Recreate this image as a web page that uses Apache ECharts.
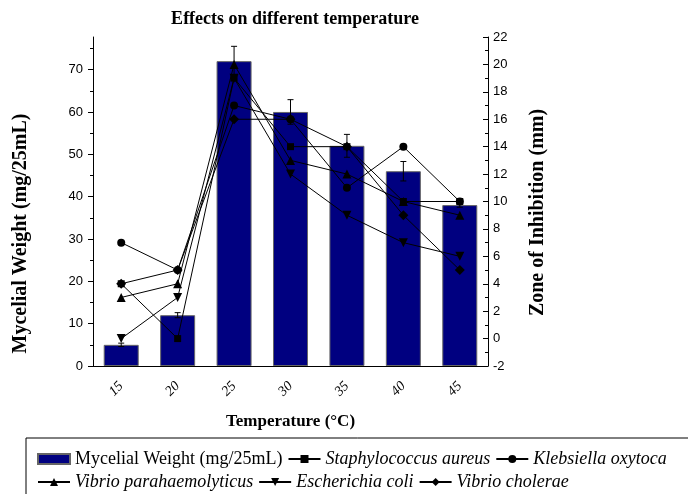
<!DOCTYPE html>
<html>
<head>
<meta charset="utf-8">
<title>Effects on different temperature</title>
<script src="https://cdn.jsdelivr.net/npm/echarts@6/dist/echarts.min.js"></script>
<style>
	html, body {
		margin: 0;
		padding: 0;
		background: #fff;
	}
	#chart {
		width: 688px;
		height: 494px;
	}
</style>
</head>
<body>
<div id="chart"></div>
<script>
	const temps = ['15', '20', '25', '30', '35', '40', '45']
	const weight = [5, 12, 72, 60, 52, 46, 38]
	const weightErr = [0.4, 0.6, 3.5, 2.9, 2.7, 2.3, 0.5]
	const staph = [4, 0, 19, 14, 14, 10, 10]
	const kleb = [7, 5, 17, 16, 11, 14, 10]
	const vpara = [3, 4, 20, 13, 12, 10, 9]
	const ecoli = [0, 3, 19, 12, 9, 7, 6]
	const vchol = [4, 5, 16, 16, 14, 9, 5]
	const leftTicks = [0, 10, 20, 30, 40, 50, 60, 70]
	const leftMinor = [5, 15, 25, 35, 45, 55, 65, 75]

	const serif = "'Liberation Serif', 'Times New Roman', serif"
	const sans = "'Liberation Sans', Arial, sans-serif"

	let chart = echarts.init(document.getElementById('chart'), null, {
		renderer: 'canvas',
		devicePixelRatio: 1
	})

	function lineSeries(name, data, symbol, size, rotate) {
		return {
			name: name,
			type: 'line',
			yAxisIndex: 1,
			data: data,
			symbol: symbol,
			symbolSize: size,
			symbolRotate: rotate || 0,
			z: 5,
			lineStyle: {
				color: '#000',
				width: 1
			},
			itemStyle: {
				color: '#000'
			}
		}
	}

	let option = {
		animation: false,
		backgroundColor: '#fff',
		title: {
			text: 'Effects on different temperature',
			left: 290,
			top: 5,
			textAlign: 'center',
			textStyle: {
				fontFamily: serif,
				fontWeight: 'bold',
				fontSize: 18,
				color: '#000'
			}
		},
		grid: {
			left: 93,
			right: 200,
			top: 37,
			bottom: 128,
			outerBoundsMode: 'none'
		},
		legend: {
			left: 26,
			top: 438,
			width: 640,
			padding: [12, 80, 40, 11],
			borderColor: '#000',
			borderWidth: 1,
			itemWidth: 32,
			itemHeight: 10,
			itemGap: 5,
			textStyle: {
				fontFamily: serif,
				fontSize: 18,
				lineHeight: 16,
				color: '#000'
			},
			data: [
				{ name: 'Mycelial Weight (mg/25mL)', icon: 'rect' },
				{ name: 'Staphylococcus aureus', textStyle: { fontStyle: 'italic' } },
				{ name: 'Klebsiella oxytoca', textStyle: { fontStyle: 'italic' } },
				{ name: 'Vibrio parahaemolyticus', textStyle: { fontStyle: 'italic' } },
				{ name: 'Escherichia coli', textStyle: { fontStyle: 'italic' } },
				{ name: 'Vibrio cholerae', textStyle: { fontStyle: 'italic' } }
			]
		},
		xAxis: [{
			type: 'category',
			data: temps,
			name: 'Temperature (°C)',
			nameLocation: 'middle',
			nameGap: 47,
			nameTextStyle: {
				fontFamily: serif,
				fontWeight: 'bold',
				fontSize: 17,
				color: '#000'
			},
			axisLine: { lineStyle: { color: '#000', width: 1 } },
			axisTick: { alignWithLabel: true, length: 6, lineStyle: { color: '#000' } },
			axisLabel: {
				rotate: 45,
				margin: 18,
				fontFamily: serif,
				fontStyle: 'italic',
				fontSize: 14,
				color: '#000'
			},
			splitLine: { show: false }
		}, {
			type: 'category',
			data: temps,
			position: 'bottom',
			axisLine: { show: false },
			axisTick: { length: 3, lineStyle: { color: '#000' } },
			axisLabel: { show: false },
			splitLine: { show: false }
		}],
		yAxis: [{
			type: 'value',
			position: 'left',
			min: 0,
			max: 77.7,
			name: 'Mycelial Weight (mg/25mL)',
			nameLocation: 'middle',
			nameGap: 62,
			nameRotate: 90,
			nameTextStyle: {
				fontFamily: serif,
				fontWeight: 'bold',
				fontSize: 20,
				color: '#000',
				padding: [0, 64, 0, 0]
			},
			axisLine: { show: true, lineStyle: { color: '#000', width: 1 } },
			axisTick: { show: true, length: 5, customValues: leftTicks, lineStyle: { color: '#000' } },
			axisLabel: {
				customValues: leftTicks,
				margin: 10,
				fontFamily: sans,
				fontSize: 13,
				color: '#000'
			},
			splitLine: { show: false }
		}, {
			type: 'value',
			position: 'right',
			min: -2,
			max: 22,
			interval: 2,
			name: 'Zone of Inhibition (mm)',
			nameLocation: 'middle',
			nameGap: 40,
			nameRotate: 90,
			nameTextStyle: {
				fontFamily: serif,
				fontWeight: 'bold',
				fontSize: 20,
				color: '#000',
				padding: [0, 22, 0, 0]
			},
			axisLine: { show: true, lineStyle: { color: '#000', width: 1 } },
			axisTick: { show: true, inside: true, length: 5, lineStyle: { color: '#000' } },
			minorTick: { show: true, splitNumber: 2, length: 3, lineStyle: { color: '#000' } },
			axisLabel: {
				margin: 5,
				fontFamily: sans,
				fontSize: 13,
				color: '#000'
			},
			splitLine: { show: false }
		}, {
			type: 'value',
			position: 'left',
			min: 0,
			max: 77.7,
			axisLine: { show: false },
			axisTick: { show: true, length: 3, customValues: leftMinor, lineStyle: { color: '#000' } },
			axisLabel: { show: false },
			splitLine: { show: false }
		}],
		series: [{
				name: 'Mycelial Weight (mg/25mL)',
				type: 'bar',
				data: weight,
				barWidth: 35,
				z: 2,
				itemStyle: {
					color: '#000080',
					borderColor: '#666',
					borderWidth: 1
				}
			},
			{
				name: 'error',
				type: 'custom',
				z: 3,
				data: temps.map((t, i) => [i, weight[i], weightErr[i]]),
				renderItem(params, api) {
					const hi = api.coord([api.value(0), api.value(1) + api.value(2)])
					const lo = api.coord([api.value(0), api.value(1) - api.value(2)])
					const w = 3
					const style = { stroke: '#000', lineWidth: 1 }
					return {
						type: 'group',
						children: [
							{ type: 'line', shape: { x1: hi[0], y1: hi[1], x2: lo[0], y2: lo[1] }, style: style },
							{ type: 'line', shape: { x1: hi[0] - w, y1: hi[1], x2: hi[0] + w, y2: hi[1] }, style: style },
							{ type: 'line', shape: { x1: lo[0] - w, y1: lo[1], x2: lo[0] + w, y2: lo[1] }, style: style }
						]
					}
				}
			},
			lineSeries('Staphylococcus aureus', staph, 'rect', 7),
			lineSeries('Klebsiella oxytoca', kleb, 'circle', 8),
			lineSeries('Vibrio parahaemolyticus', vpara, 'triangle', 9),
			lineSeries('Escherichia coli', ecoli, 'triangle', 9, 180),
			lineSeries('Vibrio cholerae', vchol, 'diamond', 10)
		]
	}

	chart.setOption(option)
</script>
</body>
</html>
